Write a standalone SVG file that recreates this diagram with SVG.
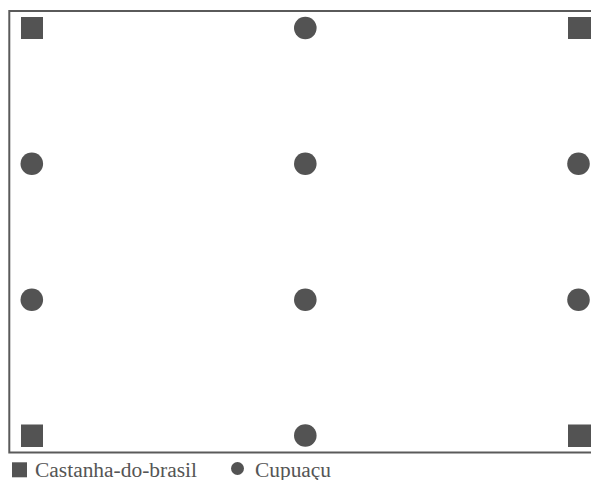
<svg xmlns="http://www.w3.org/2000/svg" width="591" height="480" viewBox="0 0 591 480">
<style>
.frame{fill:none;stroke:#5a5a5a;stroke-width:2}
.sq{fill:#535353}
.ci{fill:#535353}
.lbl{font-size:20px;fill:#555}
</style>
<rect width="591" height="480" fill="#fff"/>
<path class="frame" d="M591 11 H9.3 V452.5 H591"/>
<g id="connectors"></g>
<g id="n1"><rect class="sq" x="21" y="17" width="22" height="22"/></g>
<g id="n2"><circle class="ci" cx="305.3" cy="28" r="11.3"/></g>
<g id="n3"><rect class="sq" x="568" y="17" width="23" height="22"/></g>
<g id="n4"><circle class="ci" cx="31.8" cy="163.8" r="11.3"/></g>
<g id="n5"><circle class="ci" cx="305.3" cy="163.8" r="11.3"/></g>
<g id="n6"><circle class="ci" cx="578.5" cy="163.8" r="11.3"/></g>
<g id="n7"><circle class="ci" cx="31.8" cy="299.7" r="11.3"/></g>
<g id="n8"><circle class="ci" cx="305.3" cy="299.7" r="11.3"/></g>
<g id="n9"><circle class="ci" cx="578.5" cy="299.7" r="11.3"/></g>
<g id="n10"><rect class="sq" x="21" y="424.5" width="22" height="22.5"/></g>
<g id="n11"><circle class="ci" cx="305.3" cy="435.5" r="11.3"/></g>
<g id="n12"><rect class="sq" x="568" y="424.5" width="23" height="22.5"/></g>
<g id="legend" font-family="'Liberation Serif', 'DejaVu Serif', serif">
<rect class="sq" x="12" y="462.3" width="15" height="15"/>
<text class="lbl" x="35" y="476.7" textLength="162" lengthAdjust="spacingAndGlyphs">Castanha-do-brasil</text>
<circle class="ci" cx="237.5" cy="468.5" r="6.5"/>
<text class="lbl" x="255" y="476.7" textLength="76" lengthAdjust="spacingAndGlyphs">Cupuaçu</text>
</g>
</svg>
